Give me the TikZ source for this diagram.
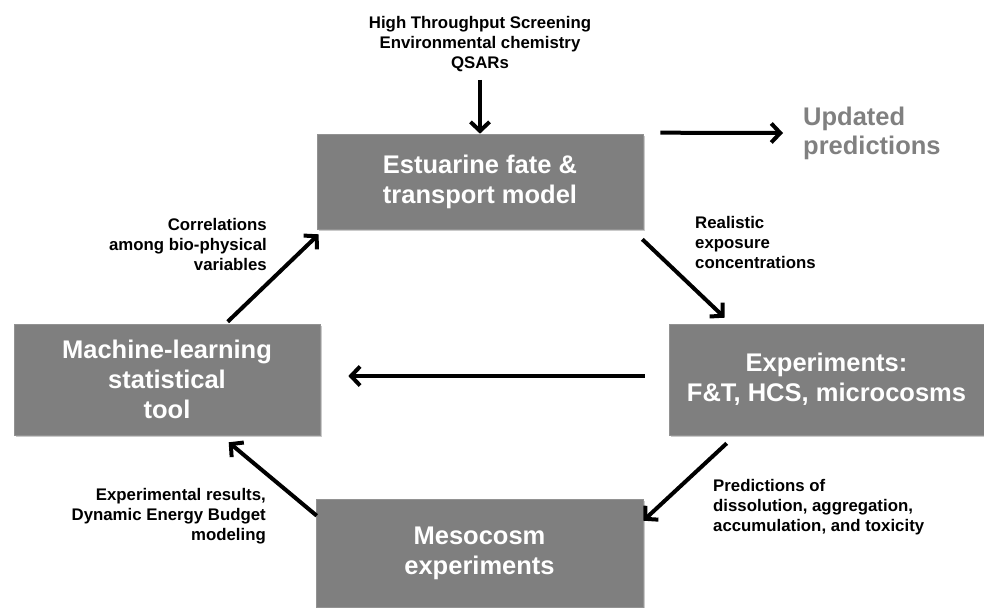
\documentclass[tikz,border=0pt]{standalone}
\usepackage{fontspec}
\setmainfont{Liberation Sans}
\usetikzlibrary{arrows.meta,shadows}
\definecolor{boxgray}{HTML}{7F7F7F}
\definecolor{updgray}{HTML}{808080}
\tikzset{
  box/.style={draw=boxgray!85!white, line width=0.6pt, fill=boxgray, text=white, align=center,
    font=\bfseries\fontsize{25.5}{30}\selectfont, inner sep=0pt,
    drop shadow={shadow xshift=1.5pt, shadow yshift=-1.5pt, opacity=0.35, fill=black!60}},
  lbl/.style={font=\bfseries\fontsize{16.8}{20}\selectfont, inner sep=0pt, text=black},
  arr/.style={line width=4pt, -{Straight Barb[length=9pt,width=19pt]}, black}
}
\begin{document}
\begin{tikzpicture}[x=1pt,y=-1pt]
\useasboundingbox (0,0) rectangle (984,607);
% boxes
\node[box, minimum width=326pt, minimum height=95pt] (est) at (480,181.5) {Estuarine fate \&\\transport model};
\node[box, minimum width=306pt, minimum height=111pt] (ml) at (167,379.5) {Machine-learning\\statistical\\tool};
\node[box, minimum width=315pt, minimum height=111pt] (exp) at (826.5,379.5) {Experiments:\\F\&T, HCS, microcosms};
\node[box, minimum width=327pt, minimum height=108pt] (meso) at (479.5,553) {Mesocosm\\experiments};
% labels
\node[lbl, align=center] (src) at (480,44) {High Throughput Screening\\Environmental chemistry\\QSARs};
\node[lbl, align=left, anchor=west] (real) at (695,242) {Realistic\\exposure\\concentrations};
\node[lbl, align=right, anchor=east] (corr) at (267,244) {Correlations\\among bio-physical\\variables};
\node[lbl, align=left, anchor=west] (pred) at (713,507) {Predictions of\\dissolution, aggregation,\\accumulation, and toxicity};
\node[lbl, align=right, anchor=east] (expres) at (266,516) {Experimental results,\\Dynamic Energy Budget\\modeling};
\node[font=\bfseries\fontsize{25.5}{29}\selectfont, text=updgray, align=left, anchor=west, inner sep=0pt] (upd) at (803,133) {Updated\\predictions};
% connectors
\draw[arr] ([yshift=-8pt]src.south) -- (est.north);
\draw[arr] ([xshift=17pt,yshift=1pt]est.north east) -- ([xshift=-20pt,yshift=0pt]upd.west);
\draw[arr] ([xshift=-1pt,yshift=-10pt]est.south east) -- ([xshift=56pt,yshift=6pt]exp.north west);
\draw[arr] ([xshift=-24pt,yshift=3.5pt]exp.west) -- ([xshift=28pt,yshift=3.5pt]ml.east);
\draw[arr] ([xshift=58pt,yshift=-8pt]exp.south west) -- ([yshift=-22pt]meso.north east);
\draw[arr] ([xshift=1pt,yshift=-17pt]meso.north west) -- ([xshift=215pt,yshift=-7pt]ml.south west);
\draw[arr] ([xshift=214pt,yshift=2pt]ml.north west) -- ([xshift=2pt,yshift=-5pt]est.south west);
\end{tikzpicture}
\end{document}
